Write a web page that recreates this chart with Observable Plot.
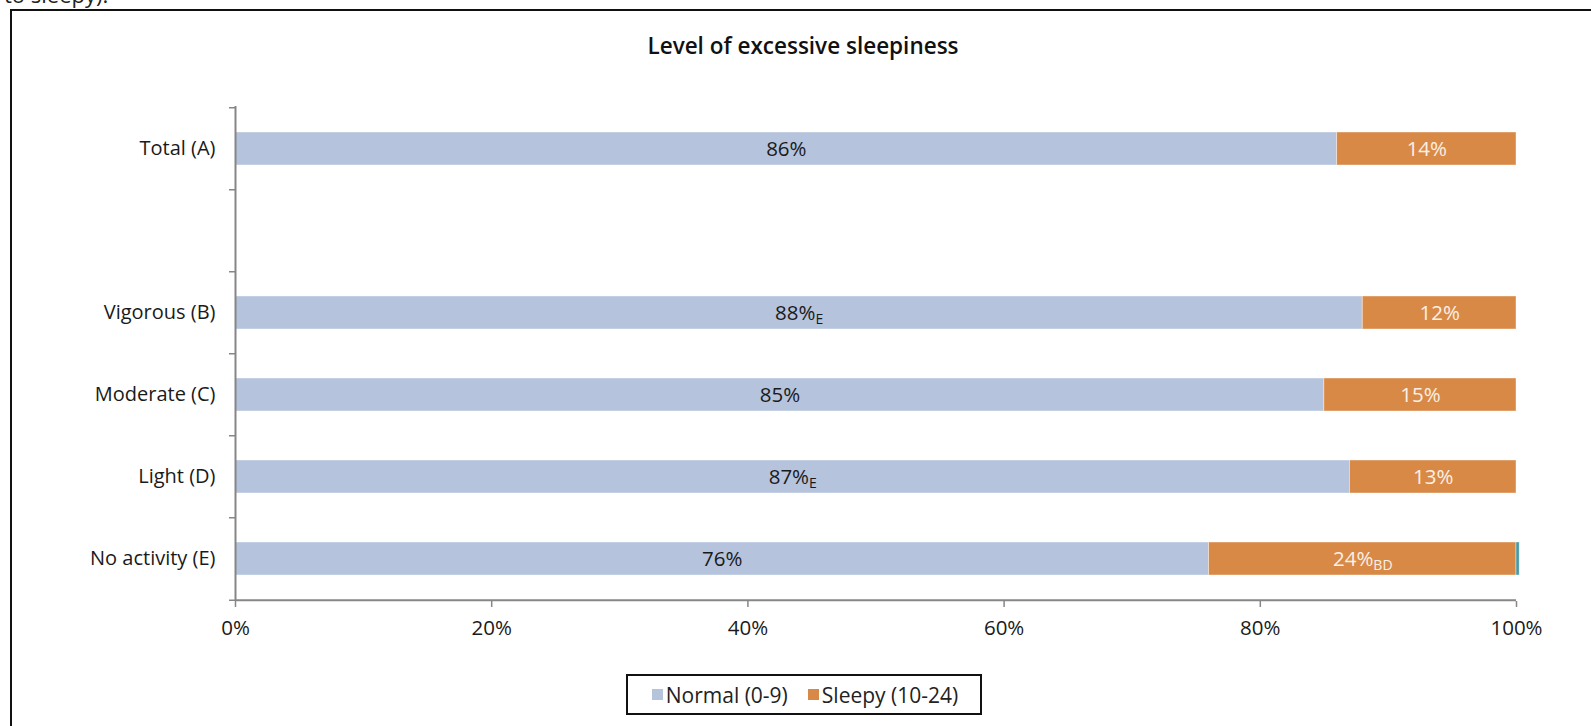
<!DOCTYPE html>
<html>
<head>
<meta charset="utf-8">
<script src="https://cdn.jsdelivr.net/npm/d3@7"></script>
<script src="https://cdn.jsdelivr.net/npm/@observablehq/plot@0.6"></script>
<style>
  html, body { margin: 0; padding: 0; background: #fff; overflow: hidden; width: 1591px; height: 726px; }
  body { position: relative; font-family: "Open Sans", Lato, "DejaVu Sans", sans-serif; color: #1a1a1a; }
  #cut { position: absolute; left: 4px; top: -17px; font-size: 22px; line-height: 22px; color: #222; white-space: nowrap; }
  #frame { position: absolute; left: 10px; top: 9px; width: 3000px; height: 3000px; border: 2.5px solid #111; box-sizing: border-box; }
  #title { position: absolute; left: 10px; width: 1586px; top: 30px; text-align: center; font-size: 22.5px; font-weight: 600; color: #111; }
  #chart { position: absolute; left: 0; top: 0; }
  #legend { position: absolute; left: 626px; top: 674px; width: 356px; height: 41px; box-sizing: border-box; border: 2px solid #111; display: flex; align-items: center; justify-content: center; gap: 20px; font-size: 21px; color: #222; padding-left: 2px; }
  #legend .item { display: flex; align-items: center; gap: 3px; }
  #legend .sw { width: 11px; height: 11px; display: inline-block; }
</style>
</head>
<body>
<div id="cut">to sleepy).</div>
<div id="frame"></div>
<div id="title">Level of excessive sleepiness</div>
<div id="chart"></div>
<div id="legend"></div>
<script>
// ---- data ----
const categories = ["Total (A)", " ", "Vigorous (B)", "Moderate (C)", "Light (D)", "No activity (E)"];
const groups = ["Total (A)", "Vigorous (B)", "Moderate (C)", "Light (D)", "No activity (E)"];
const normalValues = [86, 88, 85, 87, 76];
const sleepyValues = [14, 12, 15, 13, 24];
const otherValues = [0, 0, 0, 0, 0.25];
const normalNotes = ["", "E", "", "E", ""];
const sleepyNotes = ["", "", "", "", "BD"];
const xTicks = [0, 20, 40, 60, 80, 100];
const seriesNames = ["Normal (0-9)", "Sleepy (10-24)", "Other"];
const seriesColors = ["#b5c3dd", "#d88946", "#4a99a0"];

// ---- layout ----
const W = 1591, H = 660;
const mTop = 106, mBottom = 59, mLeft = 235, mRight = 75;
const padInner = 0.6, padOuter = 0.3;
const step = (H - mTop - mBottom) / (categories.length - padInner + 2 * padOuter);
const FONT = "'Open Sans', Lato, 'DejaVu Sans', sans-serif";

// ---- build segments ----
const segments = [];
groups.forEach((g, i) => {
  const vals = [normalValues[i], sleepyValues[i], otherValues[i]];
  let acc = 0;
  vals.forEach((v, s) => {
    if (v > 0) segments.push({cat: g, series: seriesNames[s], x1: acc, x2: acc + v});
    acc += v;
  });
});
const normalLabels = groups.map((g, i) => ({cat: g, x: normalValues[i] / 2, text: normalValues[i] + "%" + (normalNotes[i] ? "|" + normalNotes[i] : "")}));
const sleepyLabels = groups.map((g, i) => ({cat: g, x: normalValues[i] + sleepyValues[i] / 2, text: sleepyValues[i] + "%" + (sleepyNotes[i] ? "|" + sleepyNotes[i] : "")}));

const axisGray = "#868686";

const chart = Plot.plot({
  width: W, height: H,
  marginTop: mTop, marginBottom: mBottom, marginLeft: mLeft, marginRight: mRight,
  style: {fontFamily: FONT, fontSize: "20px", background: "transparent", color: "#1a1a1a"},
  x: {domain: [0, 100], axis: null},
  y: {domain: categories, paddingInner: padInner, paddingOuter: padOuter, axis: null},
  color: {domain: seriesNames, range: seriesColors},
  marks: [
    Plot.barX(segments, {y: "cat", x1: "x1", x2: "x2", fill: "series", stroke: "white", strokeWidth: 0.8, strokeOpacity: 0.5}),
    // y axis line
    Plot.ruleX([0], {stroke: axisGray, strokeWidth: 2}),
    // band boundary ticks on the y axis
    Plot.ruleY(categories, {y: d => d, x1: 0, x2: 0, insetLeft: -6, dy: -step / 2, stroke: axisGray, strokeWidth: 1.5}),
    Plot.ruleY([categories[categories.length - 1]], {y: d => d, x1: 0, x2: 0, insetLeft: -6, dy: step / 2, stroke: axisGray, strokeWidth: 1.5}),
    // x axis line
    Plot.ruleY([categories[categories.length - 1]], {y: d => d, x1: 0, x2: 100, dy: step / 2, stroke: axisGray, strokeWidth: 2}),
    Plot.axisX({ticks: xTicks, tickFormat: d => d + "%", tickSize: 6, tickPadding: 13, stroke: axisGray, strokeWidth: 1.5, fill: "#1a1a1a", label: null, fontSize: 20.5}),
    Plot.axisY({tickSize: 0, tickPadding: 20, fill: "#1a1a1a", label: null, fontSize: 20}),
    Plot.text(normalLabels, {x: "x", y: "cat", text: "text", fill: "#1a1a1a", fontSize: 20.5}),
    Plot.text(sleepyLabels, {x: "x", y: "cat", text: "text", fill: "#fbf0e6", fontSize: 20.5})
  ]
});
document.getElementById("chart").appendChild(chart);

// subscripts: "88%|E" -> 88% + subscript E
d3.select(chart).selectAll("text").each(function () {
  const t = this.textContent;
  if (t.includes("|")) {
    const [main, sub] = t.split("|");
    this.textContent = main;
    d3.select(this).append("tspan").attr("font-size", "14px").attr("dy", "0.35em").text(sub);
  }
});

// legend
const legend = d3.select("#legend");
seriesNames.slice(0, 2).forEach((name, i) => {
  const item = legend.append("div").attr("class", "item");
  item.append("span").attr("class", "sw").style("background", seriesColors[i]);
  item.append("span").text(name);
});
</script>
</body>
</html>
